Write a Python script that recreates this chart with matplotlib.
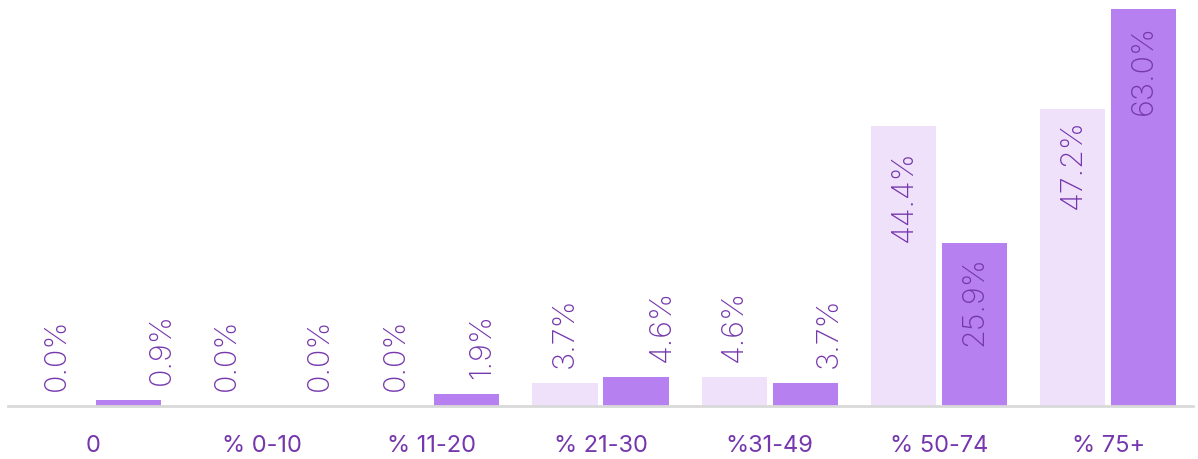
import matplotlib
matplotlib.use('Agg')
import matplotlib.pyplot as plt
import numpy as np

categories = ['0', '% 0-10', '% 11-20', '% 21-30', '%31-49', '% 50-74', '% 75+']
series_a = [0.0, 0.0, 0.0, 3.7, 4.6, 44.4, 47.2]
series_b = [0.9, 0.0, 1.9, 4.6, 3.7, 25.9, 63.0]

light = '#efe1fa'
dark = '#b780f0'
text_col = '#7537ad'

plt.rcParams['font.family'] = ['Inter', 'DejaVu Sans']

x = np.arange(len(categories))
width = 0.385
off = 0.21

fig = plt.figure(figsize=(11.98, 4.6), dpi=100)
ax = fig.add_axes([8 / 1198, 53 / 460, 1185 / 1198, 397 / 460])
ax.bar(x - off, series_a, width, color=light)
ax.bar(x + off, series_b, width, color=dark)

ax.set_xlim(-0.5, 6.5)
ax.set_ylim(0, 63)
ax.set_yticks([])
for s in ['top', 'right', 'left']:
    ax.spines[s].set_visible(False)
ax.spines['bottom'].set_color('#d9d9d9')
ax.spines['bottom'].set_linewidth(2)
ax.set_xticks(x)
ax.set_xticklabels(categories, color=text_col, fontsize=17)
ax.tick_params(axis='x', length=0, pad=20)

# label nudges in pixels as seen in the original
nudge_b = {0: 34, 1: 22, 2: 15, 3: 26, 4: 23}
inset = {(0, 5): 23, (1, 5): 12, (0, 6): 9, (1, 6): 15}

for k, vals in enumerate([series_a, series_b]):
    sign = -1 if k == 0 else 1
    for i, v in enumerate(vals):
        xpos = i + sign * off
        lab = f'{v:.1f}%'
        if v > 20:
            dy = -inset[(k, i)] * 0.72
            ax.annotate(lab, (xpos, v), xytext=(0, dy), textcoords='offset points',
                        rotation=90, ha='center', va='top', color=text_col,
                        fontsize=22, fontweight='light')
        else:
            dx = nudge_b.get(i, 0) * 0.72 if k == 1 else 0
            ax.annotate(lab, (xpos, v), xytext=(dx, 16 * 0.72), textcoords='offset points',
                        rotation=90, ha='center', va='bottom', color=text_col,
                        fontsize=22, fontweight='light')

fig.savefig('out.png', dpi=100)
